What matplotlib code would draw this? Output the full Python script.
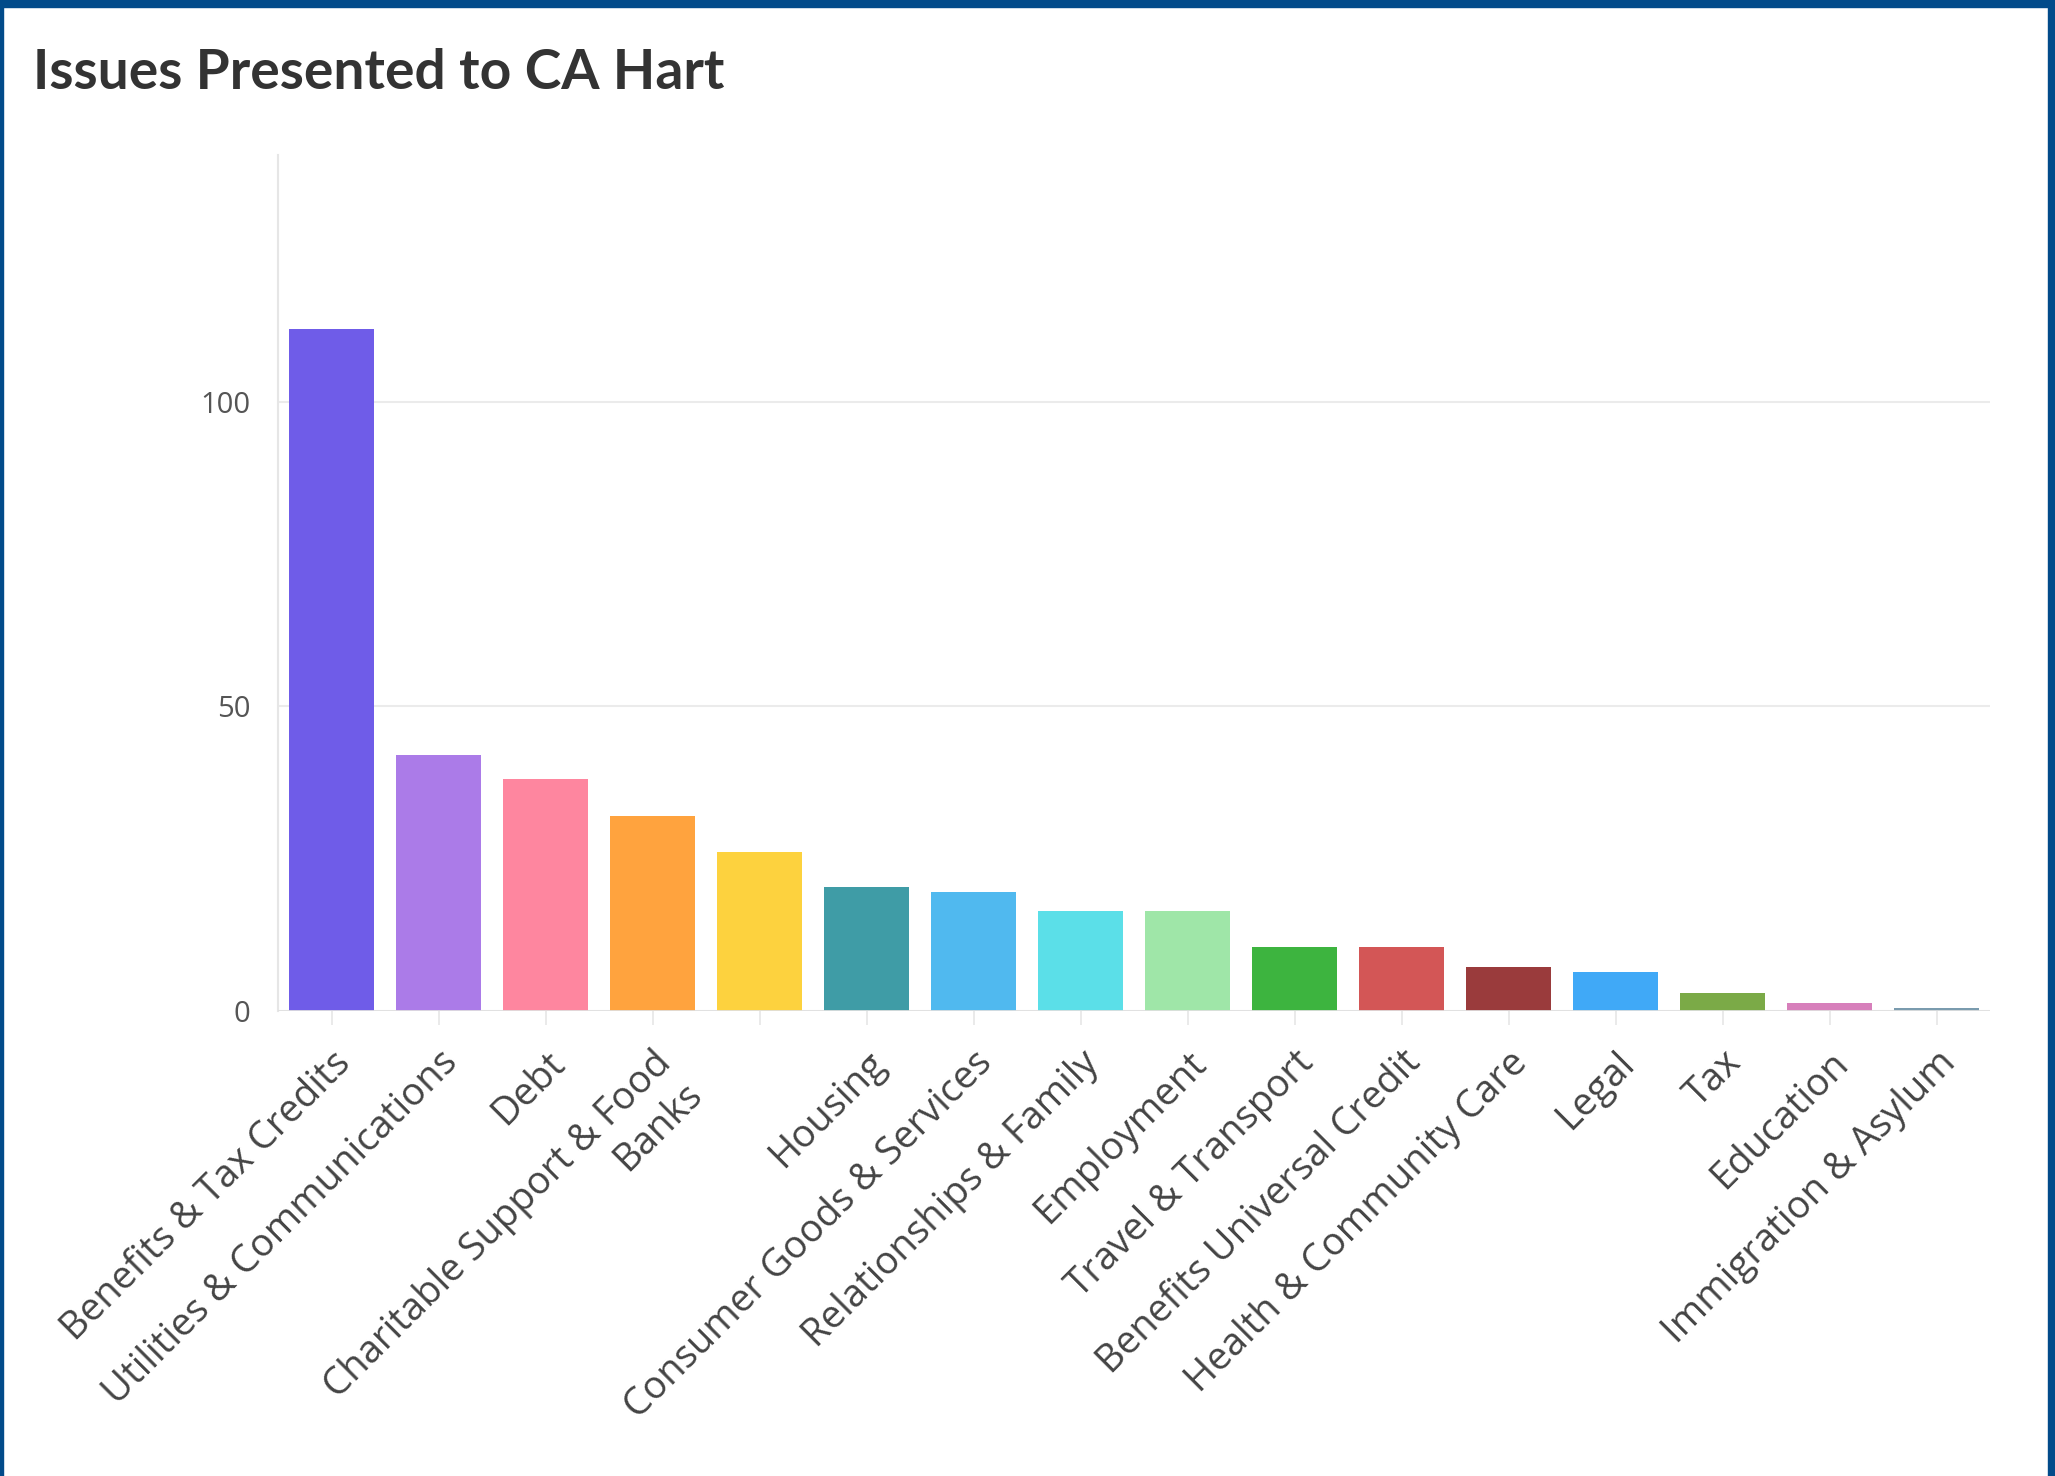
import matplotlib
matplotlib.use("Agg")
import matplotlib.pyplot as plt
from matplotlib.patches import Rectangle
from matplotlib.transforms import ScaledTranslation

categories = [
    "Benefits & Tax Credits",
    "Utilities & Communications",
    "Debt",
    "Charitable Support & Food\nBanks",
    "",
    "Housing",
    "Consumer Goods & Services",
    "Relationships & Family",
    "Employment",
    "Travel & Transport",
    "Benefits Universal Credit",
    "Health & Community Care",
    "Legal",
    "Tax",
    "Education",
    "Immigration & Asylum",
]
counts = [112, 42, 38, 32, 26, 20.3, 19.5, 16.3, 16.3, 10.5, 10.5, 7.1, 6.3, 2.9, 1.2, 0.4]
colors = [
    "#6F5CE8", "#AB7BE8", "#FE869F", "#FFA33E", "#FDD23E", "#3F9CA6",
    "#50B9EF", "#5BDFE8", "#9FE6A8", "#3DB43F", "#D35656", "#9A3B3C",
    "#40A9F7", "#7BAA47", "#D77FBB", "#7A9BAE",
]
y_ticks = [0, 50, 100]

W, H = 2055, 1476
fig = plt.figure(figsize=(W / 100, H / 100), dpi=100)
fig.patch.set_facecolor("white")

ax = fig.add_axes([278 / W, 1 - 1010.5 / H, (1990 - 278) / W, (1010.5 - 155) / H])
x = list(range(len(categories)))
ax.bar(x, counts, width=0.8, color=colors, zorder=3)

ax.set_xlim(-0.5, len(categories) - 0.5)
ax.set_ylim(0, 140.5)
ax.set_yticks(y_ticks)
ax.set_yticklabels([str(t) for t in y_ticks], fontfamily="Open Sans", fontsize=21, color="#555555")
ax.tick_params(axis="y", length=0, pad=20)
ax.yaxis.grid(True, color="#EBEBEB", linewidth=1.5, zorder=0)

for side in ["top", "right", "bottom"]:
    ax.spines[side].set_visible(False)
ax.spines["left"].set_color("#E6E6E6")
ax.spines["left"].set_linewidth(1.5)
ax.axhline(0, color="#E0E0E0", linewidth=2, zorder=4)

ax.set_xticks(x)
ax.set_xticklabels(categories, rotation=45, ha="right", va="top", rotation_mode="anchor",
                   fontfamily="Open Sans", fontsize=27.5, color="#444444", multialignment="right")
ax.tick_params(axis="x", length=10, width=1.2, color="#E6E6E6", pad=14)
for lab in ax.get_xticklabels():
    lab.set_transform(lab.get_transform() + ScaledTranslation(0.0, 0, fig.dpi_scale_trans))

fig.text(33 / W, 1 - 89 / H, "Issues Presented to CA Hart", fontfamily="Lato", fontweight="bold",
         fontsize=39.7, color="#333333", va="baseline", ha="left")

# dark blue frame
border = "#024B8A"
fig.patches.append(Rectangle((0, 1 - 7 / H), 1, 7 / H, transform=fig.transFigure, color=border))
fig.patches.append(Rectangle((0, 0), 3 / W, 1, transform=fig.transFigure, color=border))
fig.patches.append(Rectangle((1 - 7 / W, 0), 7 / W, 1, transform=fig.transFigure, color=border))

fig.savefig("out.png", dpi=100)
